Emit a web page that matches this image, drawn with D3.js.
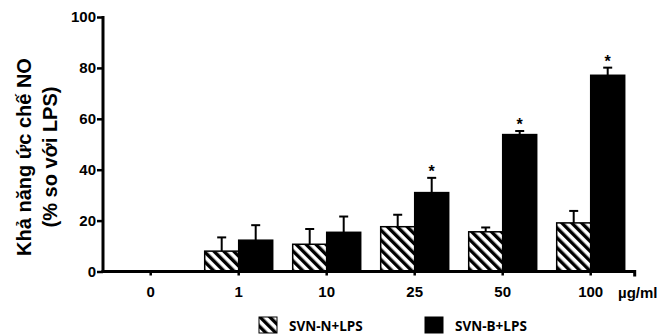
<!DOCTYPE html>
<html>
<head>
<meta charset="utf-8">
<script src="https://cdn.jsdelivr.net/npm/d3@7"></script>
<style>
  html, body { margin: 0; padding: 0; background: #fff; }
  svg { display: block; }
  .tick text { font-family: "Liberation Sans", Arial, sans-serif; font-weight: bold; font-size: 15px; fill: #000; }
</style>
</head>
<body>
<svg id="chart" width="668" height="334"></svg>
<script>
// Concentrations (µg/ml)
const categories = ["0", "1", "10", "25", "50", "100"];
// NO inhibition (% vs LPS), mean and SD
const svnN = [0, 8.0, 10.7, 17.6, 15.6, 19.1];
const svnNErr = [0, 5.4, 6.0, 4.7, 1.7, 4.7];
const svnB = [0, 12.3, 15.4, 31.0, 53.8, 77.1];
const svnBErr = [0, 5.9, 6.2, 5.8, 1.4, 3.0];
const significant = [false, false, false, true, true, true];
const yTicks = [0, 20, 40, 60, 80, 100];
const seriesNames = ["SVN-N+LPS", "SVN-B+LPS"];

const svg = d3.select("#chart");

// hatch pattern for SVN-N bars
const defs = svg.append("defs");
const pat = defs.append("pattern")
  .attr("id", "hatch")
  .attr("patternUnits", "userSpaceOnUse")
  .attr("width", 7).attr("height", 7)
  .attr("patternTransform", "rotate(-45)");
pat.append("rect").attr("width", 7).attr("height", 7).attr("fill", "#fff");
pat.append("rect").attr("x", 0).attr("width", 3.4).attr("height", 7).attr("fill", "#000");

const x = d3.scaleBand().domain(categories).range([106.7, 634.7]).padding(0);
const y = d3.scaleLinear().domain([0, 100]).range([271.5, 17]);
const barW = 34;
const cx = c => x(c) + x.bandwidth() / 2;

// bars
const g = svg.append("g");
categories.forEach((c, i) => {
  if (svnN[i] > 0) {
    g.append("rect")
      .attr("x", cx(c) - barW).attr("y", y(svnN[i]))
      .attr("width", barW).attr("height", y(0) - y(svnN[i]))
      .attr("fill", "url(#hatch)").attr("stroke", "#000").attr("stroke-width", 1.5);
  }
  if (svnB[i] > 0) {
    g.append("rect")
      .attr("x", cx(c)).attr("y", y(svnB[i]))
      .attr("width", barW).attr("height", y(0) - y(svnB[i]))
      .attr("fill", "#000").attr("stroke", "#000").attr("stroke-width", 1.5);
  }
});

// error bars (upper only)
function errBar(xc, v, e) {
  if (e <= 0) return;
  g.append("line").attr("x1", xc).attr("x2", xc)
    .attr("y1", y(v)).attr("y2", y(v + e))
    .attr("stroke", "#000").attr("stroke-width", 2);
  g.append("line").attr("x1", xc - 4.5).attr("x2", xc + 4.5)
    .attr("y1", y(v + e)).attr("y2", y(v + e))
    .attr("stroke", "#000").attr("stroke-width", 2);
}
categories.forEach((c, i) => {
  errBar(cx(c) - barW / 2, svnN[i], svnNErr[i]);
  errBar(cx(c) + barW / 2, svnB[i], svnBErr[i]);
  if (significant[i]) {
    g.append("text")
      .attr("x", cx(c) + barW / 2).attr("y", y(svnB[i] + svnBErr[i]) - 1)
      .attr("text-anchor", "middle")
      .attr("font-family", "Liberation Sans, Arial, sans-serif")
      .attr("font-weight", "bold").attr("font-size", 16)
      .text("*");
  }
});

// y axis
const yAxis = svg.append("g")
  .attr("transform", "translate(103,0)")
  .call(d3.axisLeft(y).tickValues(yTicks).tickSize(6).tickSizeOuter(0).tickPadding(1));
yAxis.select(".domain").attr("stroke-width", 3).attr("d", `M0,${y(100) - 1}V${y(0) + 1.5}`);
yAxis.selectAll(".tick line").attr("stroke-width", 2.5);

// x axis
const xAxis = svg.append("g")
  .attr("transform", `translate(0,${y(0)})`)
  .call(d3.axisBottom(x).tickSize(4).tickSizeOuter(0).tickPadding(11));
xAxis.select(".domain").attr("stroke-width", 3).attr("d", "M101.5,0H634.7V5");
xAxis.selectAll(".tick line").attr("stroke-width", 2.5);

// unit label
svg.append("text")
  .attr("x", 618).attr("y", y(0) + 26)
  .attr("font-family", "Liberation Sans, Arial, sans-serif")
  .attr("font-weight", "bold").attr("font-size", 15)
  .text("µg/ml");

// y axis title
const title = svg.append("text")
  .attr("transform", "translate(31,157) rotate(-90)")
  .attr("text-anchor", "middle")
  .attr("font-family", "Liberation Sans, Arial, sans-serif")
  .attr("font-weight", "bold").attr("font-size", 20);
title.append("tspan").attr("x", 0).attr("dy", 0).text("Khả năng ức chế NO");
title.append("tspan").attr("x", 0).attr("dy", 26).text("(% so với LPS)");

// legend
const legend = [
  { name: seriesNames[0], fill: "url(#hatch)", x: 259 },
  { name: seriesNames[1], fill: "#000", x: 425 }
];
legend.forEach(d => {
  svg.append("rect")
    .attr("x", d.x).attr("y", 317).attr("width", 18).attr("height", 16)
    .attr("fill", d.fill).attr("stroke", "#000").attr("stroke-width", 1);
  svg.append("text")
    .attr("x", d.x + 30).attr("y", 331)
    .attr("font-family", "Open Sans, sans-serif")
    .attr("font-weight", "bold").attr("font-size", 13.5)
    .text(d.name);
});
</script>
</body>
</html>
